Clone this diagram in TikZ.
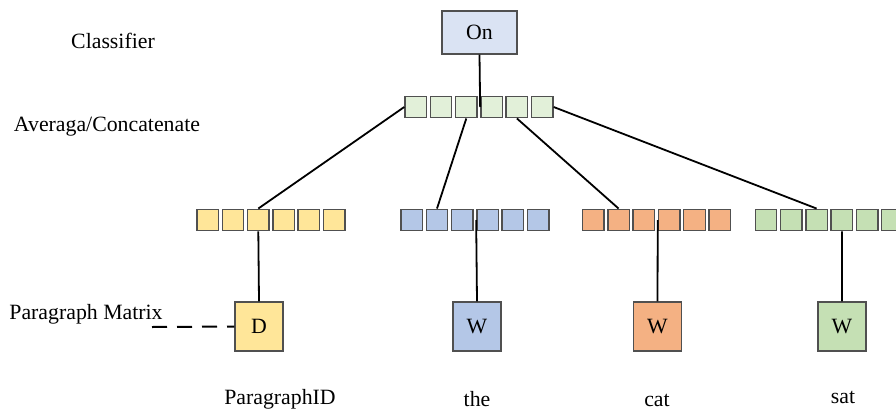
\documentclass[tikz,border=0pt]{standalone}
\usepackage{fontspec}
\setmainfont{Liberation Serif}
\usetikzlibrary{positioning}
\definecolor{onblue}{HTML}{DAE3F3}
\definecolor{avggreen}{HTML}{E2F0D9}
\definecolor{docyellow}{HTML}{FFE699}
\definecolor{wordblue}{HTML}{B4C7E7}
\definecolor{wordorange}{HTML}{F4B183}
\definecolor{wordgreen}{HTML}{C5E0B4}
\definecolor{edgegray}{HTML}{505050}
\tikzset{
    every node/.style={font=\fontsize{21.8}{26}\selectfont},
    cell/.style={draw=edgegray,line width=1.4pt,minimum width=21.5pt,minimum height=21.5pt,inner sep=0pt},
    vecbox/.style={draw=edgegray,line width=1.4pt,minimum width=48pt,minimum height=49pt,inner sep=0pt},
    link/.style={draw=black,line width=1.8pt}
}
\begin{document}
\begin{tikzpicture}[x=1pt,y=-1pt]
\useasboundingbox (0,0) rectangle (896,410);
% side labels
\node (clsname) at (113,41) {Classifier};
\node (avgname) at (107,127) {Averaga/Concatenate};
\node (mtxname) at (86,314) {Paragraph Matrix};
% classifier
\node[vecbox,fill=onblue,minimum width=75pt,minimum height=43pt] (On) at (479.5,32.5) {On};
% vector rows
\foreach \row/\x/\y/\col in {avg/415.7/107/avggreen,par/207.7/220/docyellow,the/411.7/220/wordblue,cat/593.3/220/wordorange,sat/766/220/wordgreen}
    \foreach \i in {1,...,6}
        \node[cell,fill=\col] (\row\i) at ({\x+(\i-1)*25.3},\y) {};
% input boxes
\node[vecbox,fill=docyellow] (D) at (259,326.5) {D};
\node[vecbox,fill=wordblue] (theW) at (477,326.5) {W};
\node[vecbox,fill=wordorange] (catW) at (657.5,326.5) {W};
\node[vecbox,fill=wordgreen] (satW) at (842,326.5) {W};
% words
\node (pidname) at (280,399) {ParagraphID};
\node (thename) at (477,399) {the};
\node (catname) at (657,400) {cat};
\node (satname) at (843,397) {sat};
% connectors
\draw[link] (On.south) -- (avg4.west);
\draw[link] (avg1.west) -- (par3.north);
\draw[link] (avg3.south) -- (the2.north);
\draw[link] (avg5.south) -- (cat2.north);
\draw[link] (avg6.east) -- (sat3.north);
\draw[link] (par3.south) -- (D.north);
\draw[link] (the4.west) -- (theW.north);
\draw[link] (cat4.west) -- (catW.north);
\draw[link] (sat4.south) -- (satW.north);
\coordinate (mtxend) at (152,327);
\draw[link,line width=2pt,dash pattern=on 15pt off 10pt] (mtxend) -- (D.west);
\end{tikzpicture}
\end{document}
